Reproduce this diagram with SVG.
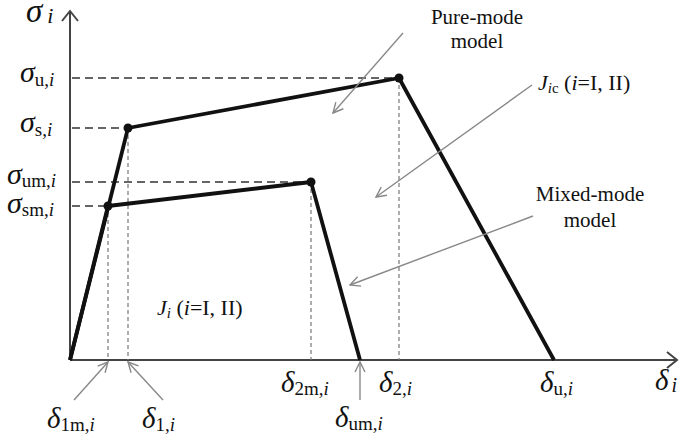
<svg xmlns="http://www.w3.org/2000/svg" width="680" height="440" viewBox="0 0 680 440">
<defs>
<style>
text{font-family:"Liberation Serif","Times New Roman",serif;fill:#111}
.g{font-size:30px;font-style:italic}
.d{font-size:29px;font-style:italic}
.sub{font-size:19px;font-style:normal}
.lab{font-size:21px}
.j{font-size:22px}
.it{font-style:italic}
.axis{stroke:#444;stroke-width:2;fill:none}
.curve{stroke:#111;stroke-width:3.8;fill:none;stroke-linejoin:round}
.hd{stroke:#333;stroke-width:1.6;stroke-dasharray:8 5;fill:none}
.vd{stroke:#777;stroke-width:1.2;stroke-dasharray:4 3;fill:none}
.ptr{stroke:#888;stroke-width:1.4;fill:none;marker-end:url(#ah)}
</style>
<marker id="ah" viewBox="0 0 12 12" refX="11" refY="6" markerWidth="12" markerHeight="12" markerUnits="userSpaceOnUse" orient="auto">
<path d="M1,1 L11,6 L1,11" fill="none" stroke="#888" stroke-width="1.4"/>
</marker>
</defs>
<rect width="680" height="440" fill="#fff"/>

<g id="axes">
<path class="axis" d="M70,360 V11"/>
<path class="axis" d="M62,21 L70,11 L78,21"/>
<path class="axis" d="M70,360 H677"/>
<path class="axis" d="M667,352 L677,360 L667,368"/>
</g>

<g id="guides">
<path class="hd" d="M72,78 H399"/>
<path class="hd" d="M72,128 H128"/>
<path class="hd" d="M72,182 H311"/>
<path class="hd" d="M72,206 H108"/>
<path class="vd" d="M108,206 V360"/>
<path class="vd" d="M128,128 V360"/>
<path class="vd" d="M311,182 V360"/>
<path class="vd" d="M399,78 V360"/>
</g>

<g id="pure-mode-curve">
<path class="curve" d="M70,360 L128,128 L399,78 L554,360"/>
<circle cx="128" cy="128" r="4.5" fill="#111"/>
<circle cx="399" cy="78" r="4.5" fill="#111"/>
</g>

<g id="mixed-mode-curve">
<path class="curve" d="M70,360 L108,206 L311,182 L360,360"/>
<circle cx="108" cy="206" r="4.5" fill="#111"/>
<circle cx="311" cy="182" r="4.5" fill="#111"/>
</g>

<g id="connectors">
<path class="ptr" d="M403,33 L333,113"/>
<path class="ptr" d="M532,85 L376,197"/>
<path class="ptr" d="M533,216 L350,285"/>
<path class="ptr" d="M74,400 L108,362"/>
<path class="ptr" d="M163,400 L128,362"/>
<path class="ptr" d="M360,400 L360,362"/>
</g>

<g id="y-labels">
<text x="26" y="22" style="font-size:33px;font-style:italic">σ<tspan dx="5" dy="1" style="font-size:22px">i</tspan></text>
<text class="g" x="20" y="82">σ<tspan class="sub" dy="4">u,<tspan class="it">i</tspan></tspan></text>
<text class="g" x="20" y="132">σ<tspan class="sub" dy="4">s,<tspan class="it">i</tspan></tspan></text>
<text class="g" x="7" y="184">σ<tspan class="sub" dy="3">um,<tspan class="it">i</tspan></tspan></text>
<text class="g" x="7" y="213">σ<tspan class="sub" dy="3">sm,<tspan class="it">i</tspan></tspan></text>
</g>

<g id="x-labels">
<text class="d" x="47" y="428">δ<tspan class="sub" dy="3">1m,<tspan class="it">i</tspan></tspan></text>
<text class="d" x="142" y="428">δ<tspan class="sub" dy="3">1,<tspan class="it">i</tspan></tspan></text>
<text class="d" x="281" y="392">δ<tspan class="sub" dy="3">2m,<tspan class="it">i</tspan></tspan></text>
<text class="d" x="335" y="427">δ<tspan class="sub" dy="3">um,<tspan class="it">i</tspan></tspan></text>
<text class="d" x="379" y="392">δ<tspan class="sub" dy="3">2,<tspan class="it">i</tspan></tspan></text>
<text class="d" x="540" y="392">δ<tspan class="sub" dy="3">u,<tspan class="it">i</tspan></tspan></text>
<text class="d" x="655" y="390">δ<tspan dx="3" style="font-size:20px" dy="2">i</tspan></text>
</g>

<g id="pure-mode-label">
<text class="lab" x="477" y="24" text-anchor="middle">Pure-mode</text>
<text class="lab" x="477" y="48" text-anchor="middle">model</text>
</g>
<g id="mixed-mode-label">
<text class="lab" x="590" y="201" text-anchor="middle">Mixed-mode</text>
<text class="lab" x="590" y="227" text-anchor="middle">model</text>
</g>
<g id="jic-label">
<text class="j" x="538" y="90"><tspan class="it">J</tspan><tspan dy="3" style="font-size:15px"><tspan class="it">i</tspan>c</tspan><tspan dy="-3"> (</tspan><tspan class="it">i</tspan>=I, II)</text>
</g>
<g id="ji-label">
<text class="j" x="157" y="315"><tspan class="it">J</tspan><tspan class="it" dy="3" style="font-size:15px">i</tspan><tspan dy="-3"> (</tspan><tspan class="it">i</tspan>=I, II)</text>
</g>
</svg>
